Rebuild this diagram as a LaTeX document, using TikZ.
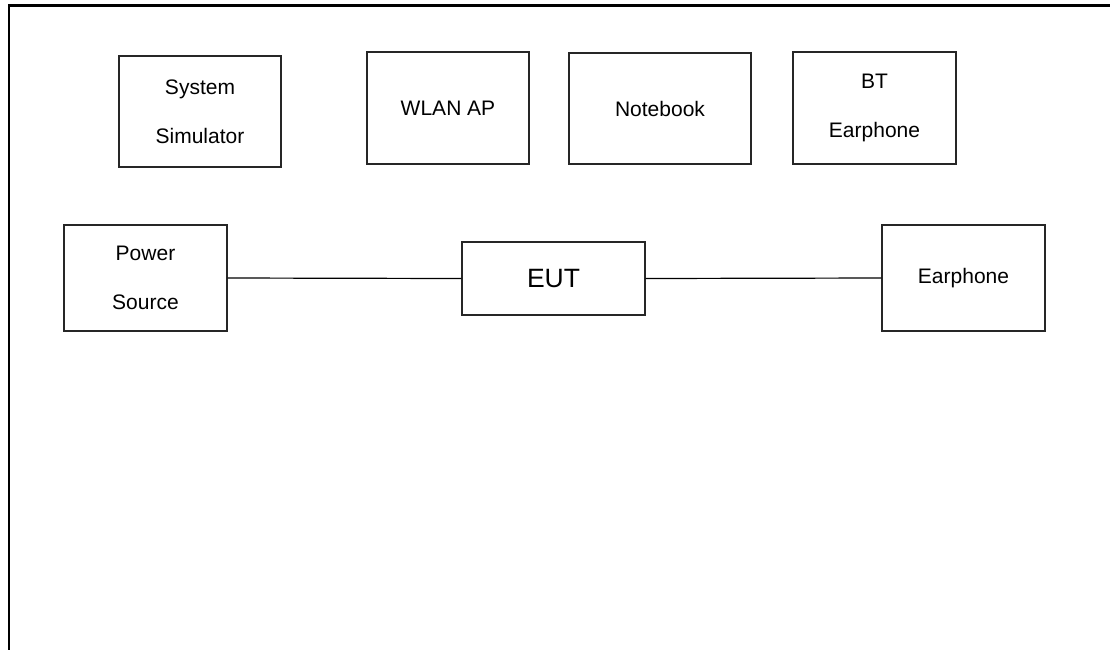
\documentclass[tikz,border=0pt]{standalone}
\usepackage{fontspec}
\setmainfont{Liberation Sans}
\begin{document}
\begin{tikzpicture}[x=1pt,y=-1pt,
  box/.style={draw=black!85, line width=1.1pt, rectangle, inner sep=0pt, align=center,
    font=\fontsize{21}{49}\selectfont},
  link/.style={draw=black, line width=1.2pt}]
\useasboundingbox (0,0) rectangle (1110,649);
\draw[line width=2.6pt] (9,652) -- (9,5.3) -- (1112,5.3);
\node[box, minimum width=162pt, minimum height=111pt] (sim) at (200,111.5) {System\\Simulator};
\node[box, minimum width=162pt, minimum height=112pt] (wlan) at (448,108) {WLAN AP};
\node[box, minimum width=182pt, minimum height=111pt] (note) at (660,108.5) {Notebook};
\node[box, minimum width=163pt, minimum height=112pt] (bt) at (874.5,108) {BT\\Earphone};
\node[box, minimum width=163pt, minimum height=106pt] (pow) at (145.5,278) {Power\\Source};
\node[box, minimum width=183pt, minimum height=73pt, font=\fontsize{26.5}{30}\selectfont] (eut) at (553.5,278.5) {EUT};
\node[box, minimum width=163pt, minimum height=106pt] (ear) at (963.5,278) {Earphone};
\draw[link] (pow.east) -- (eut.west);
\draw[link] (eut.east) -- (ear.west);
\end{tikzpicture}
\end{document}
